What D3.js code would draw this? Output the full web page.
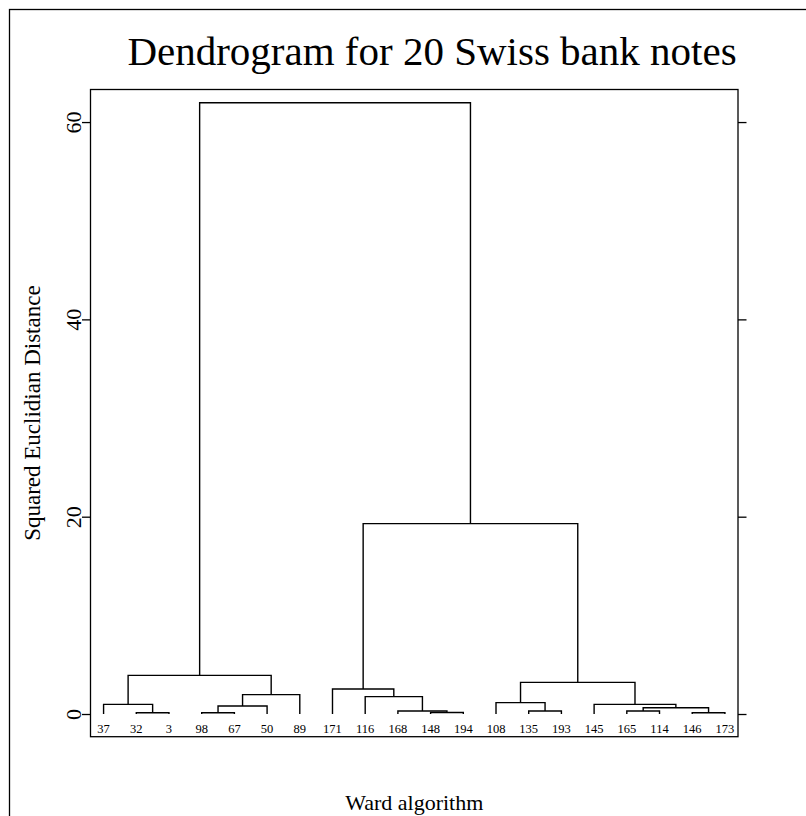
<!DOCTYPE html>
<html>
<head>
<meta charset="utf-8">
<script src="https://cdn.jsdelivr.net/npm/d3@7"></script>
<style>
  html, body { margin: 0; padding: 0; background: #fff; }
  svg { display: block; }
  text { font-family: "Liberation Serif", "Times New Roman", serif; fill: #000; }
</style>
</head>
<body>
<svg id="chart" width="806" height="816"></svg>
<script>
// ---- Data ----
const title = "Dendrogram for 20 Swiss bank notes";
const xLabel = "Ward algorithm";
const yLabel = "Squared Euclidian Distance";
const leafLabels = ["37","32","3","98","67","50","89","171","116","168","148","194","108","135","193","145","165","114","146","173"];
// merge steps: ids 0..19 are the leaves (in display order), id 20+k is merge k
const mergeLeft   = [1, 0, 3, 22, 23, 21, 10, 9, 8, 7, 13, 12, 16, 18, 32, 15, 31, 29, 25];
const mergeRight  = [2, 20, 4, 5, 6, 24, 11, 26, 27, 28, 14, 30, 17, 19, 33, 34, 35, 36, 37];
const mergeHeight = [0.13, 0.98, 0.13, 0.81, 1.96, 3.92, 0.15, 0.30, 1.76, 2.53, 0.30, 1.15, 0.30, 0.13, 0.64, 0.98, 3.21, 19.3, 61.95];
const yTicks = [0, 20, 40, 60];

// ---- Layout ----
const svg = d3.select("#chart");
const plot = { left: 90.5, right: 738, top: 89.5, bottom: 736.7 };

const x = d3.scaleLinear().domain([0.6, leafLabels.length + 0.4]).range([plot.left, plot.right]);
const y = d3.scaleLinear().domain([-2.3, 63.3]).range([plot.bottom, plot.top]);

// outer frame (extends past the right/bottom edges)
svg.append("rect")
  .attr("x", 9.5).attr("y", 9.5).attr("width", 900).attr("height", 900)
  .attr("fill", "none").attr("stroke", "#000").attr("stroke-width", 1.3);

// title
svg.append("text")
  .attr("x", 432).attr("y", 65)
  .attr("text-anchor", "middle")
  .style("font-size", "41px")
  .text(title);

// x label
svg.append("text")
  .attr("x", (plot.left + plot.right) / 2).attr("y", 810)
  .attr("text-anchor", "middle")
  .style("font-size", "22px")
  .text(xLabel);

// y label
svg.append("text")
  .attr("transform", `translate(40,${(plot.top + plot.bottom) / 2}) rotate(-90)`)
  .attr("text-anchor", "middle")
  .style("font-size", "23px")
  .text(yLabel);

// axes
const leftAxis = svg.append("g")
  .attr("transform", `translate(${plot.left},0)`)
  .call(d3.axisLeft(y).tickValues(yTicks).tickSize(8.5).tickFormat(d3.format("d")));
leftAxis.select(".domain").remove();
leftAxis.selectAll("line").attr("stroke", "#000").attr("stroke-width", 1.3);
leftAxis.selectAll("text")
  .attr("x", 0).attr("y", -9.5).attr("dy", 0)
  .attr("transform", "rotate(-90)")
  .attr("text-anchor", "middle")
  .attr("font-family", null).attr("font-size", null)
  .style("font-size", "22px");

const rightAxis = svg.append("g")
  .attr("transform", `translate(${plot.right},0)`)
  .call(d3.axisRight(y).tickValues(yTicks).tickSize(8.5).tickFormat(""));
rightAxis.select(".domain").remove();
rightAxis.selectAll("line").attr("stroke", "#000").attr("stroke-width", 1.3);

// plot box
svg.append("rect")
  .attr("x", plot.left).attr("y", plot.top)
  .attr("width", plot.right - plot.left).attr("height", plot.bottom - plot.top)
  .attr("fill", "none").attr("stroke", "#000").attr("stroke-width", 1.3);

// node positions
const nodeX = leafLabels.map((_, i) => x(i + 1));
const nodeH = leafLabels.map(() => 0);
mergeHeight.forEach((h, k) => {
  nodeX.push((nodeX[mergeLeft[k]] + nodeX[mergeRight[k]]) / 2);
  nodeH.push(h);
});

// dendrogram links
svg.append("g")
  .selectAll("path")
  .data(mergeHeight.map((h, k) => ({ l: mergeLeft[k], r: mergeRight[k], h })))
  .join("path")
  .attr("d", d => {
    const p = d3.path();
    p.moveTo(nodeX[d.l], y(nodeH[d.l]));
    p.lineTo(nodeX[d.l], y(d.h));
    p.lineTo(nodeX[d.r], y(d.h));
    p.lineTo(nodeX[d.r], y(nodeH[d.r]));
    return p.toString();
  })
  .attr("fill", "none")
  .attr("stroke", "#000")
  .attr("stroke-width", 1.4);

// leaf labels
svg.append("g")
  .selectAll("text")
  .data(leafLabels)
  .join("text")
  .attr("x", (d, i) => x(i + 1))
  .attr("y", 732.5)
  .attr("text-anchor", "middle")
  .style("font-size", "12.5px")
  .text(d => d);
</script>
</body>
</html>
